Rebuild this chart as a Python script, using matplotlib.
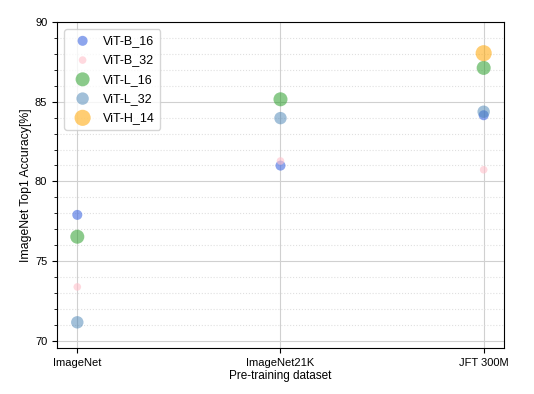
import matplotlib
matplotlib.use("Agg")
import matplotlib.pyplot as plt
from matplotlib.ticker import MultipleLocator

plt.rcParams['font.family'] = ['Liberation Sans', 'DejaVu Sans']

datasets = ["ImageNet", "ImageNet21K", "JFT 300M"]
models = ["ViT-B_16", "ViT-B_32", "ViT-L_16", "ViT-L_32", "ViT-H_14"]
vit_b16 = [77.9, 80.99, 84.15]
vit_b32 = [73.38, 81.28, 80.73]
vit_l16 = [76.53, 85.15, 87.12]
vit_l32 = [71.16, 83.97, 84.37]
vit_h14 = [None, None, 88.04]
values = [vit_b16, vit_b32, vit_l16, vit_l32, vit_h14]

colors = ["royalblue", "pink", "#2ca02c", "steelblue", "orange"]
alphas = [0.6, 0.6, 0.55, 0.5, 0.55]
sizes = [52, 30, 102, 80, 135]

fig = plt.figure(figsize=(5.34, 3.94), dpi=100)
ax = fig.add_axes([0.1067, 0.1168, 0.8371, 0.8274])

for name, vals, c, a, s in zip(models, values, colors, alphas, sizes):
    xs = [i for i, v in enumerate(vals) if v is not None]
    ys = [v for v in vals if v is not None]
    ax.scatter(xs, ys, s=s, color=c, alpha=a, label=name, edgecolors='none', zorder=3)

ax.set_xlim(-0.1, 2.1)
ax.set_ylim(69.55, 90)
ax.set_xticks(range(len(datasets)))
ax.set_xticklabels(datasets)
ax.yaxis.set_major_locator(MultipleLocator(5))
ax.yaxis.set_minor_locator(MultipleLocator(1))
ax.grid(True, which='major', color='#d0d0d0', linewidth=0.8, zorder=0)
ax.grid(True, which='minor', axis='y', color='#e0e0e0', linestyle=':', linewidth=0.8, zorder=0)
ax.set_axisbelow(True)
ax.tick_params(labelsize=8)
ax.set_xlabel("Pre-training dataset", fontsize=8.5, labelpad=2)
ax.set_ylabel("ImageNet Top1 Accuracy[%]", fontsize=8.8)
ax.yaxis.set_label_coords(-0.055, 0.5)
ax.legend(loc='upper left', fontsize=9, markerscale=1.0, borderaxespad=0.6,
          handletextpad=0.6, labelspacing=0.58, borderpad=0.45)

fig.savefig("out.png", dpi=100)
